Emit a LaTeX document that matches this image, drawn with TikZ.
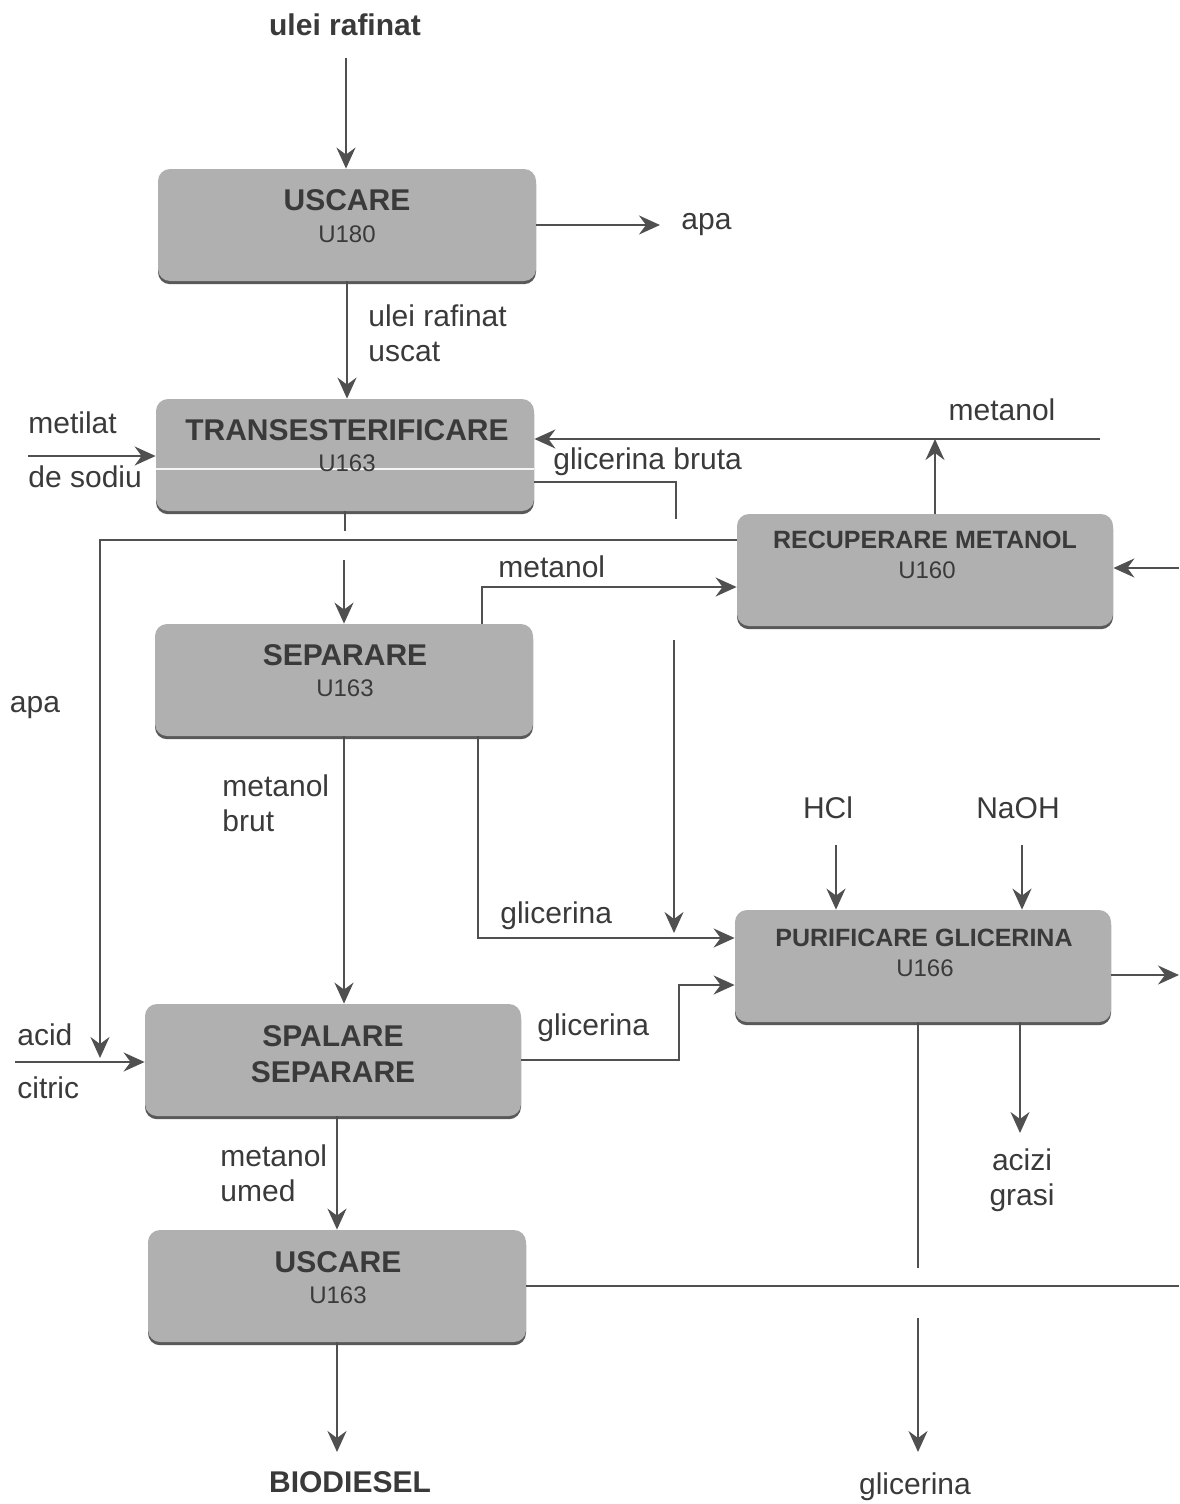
\documentclass[tikz,border=0pt]{standalone}
\usepackage{fontspec}
\setmainfont{Liberation Sans}
\usetikzlibrary{arrows.meta,shadows,calc}
\definecolor{boxfill}{HTML}{B0B0B0}
\definecolor{ln}{HTML}{505050}
\definecolor{txt}{HTML}{3A3A3A}
\begin{document}
\begin{tikzpicture}[x=0.5pt,y=-0.5pt,
  box/.style={draw=none, fill=boxfill, rounded corners=6pt, minimum width=189pt, minimum height=56pt, inner sep=0pt,
    drop shadow={shadow xshift=0pt, shadow yshift=-1.6pt, fill=black!65, opacity=1}},
  ttl/.style={text=txt, font=\fontsize{15}{18}\selectfont\bfseries, inner sep=0pt},
  ttls/.style={text=txt, font=\fontsize{12.5}{15}\selectfont\bfseries, inner sep=0pt},
  sub/.style={text=txt, font=\fontsize{12}{14}\selectfont, inner sep=0pt},
  lab/.style={text=txt, font=\fontsize{15}{17.5}\selectfont, inner sep=0pt, align=left},
  labb/.style={text=txt, font=\fontsize{15}{18}\selectfont\bfseries, inner sep=0pt},
  line/.style={draw=ln, line width=1pt},
  arr/.style={line, -{Stealth[length=10.5pt,width=9.5pt,inset=3.5pt]}},
]
\useasboundingbox (0,0) rectangle (1179,1504);

% boxes
\node[box] (u180) at (347,225) {};
\node[box] (trans) at (345,455) {};
\node[box] (sep) at (344,680) {};
\node[box, minimum width=188pt] (rec) at (925,570) {};
\node[box, minimum width=188pt] (pur) at (923,966) {};
\node[box, minimum width=188pt] (spal) at (333,1060) {};
\node[box] (u163) at (337,1286) {};

% white scan line across TRANSESTERIFICARE
\draw[white!92!gray, line width=1pt] ($(trans.west)+(0,14)$) -- ($(trans.east)+(0,14)$);

% box texts
\node[ttl] (u180t) at (347,200) {USCARE};
\node[sub] (u180s) at (347,234) {U180};
\node[ttl] (transt) at (347,430) {TRANSESTERIFICARE};
\node[sub] (transs) at (347,463) {U163};
\node[ttls] (rect) at (925,540) {RECUPERARE METANOL};
\node[sub] (recs) at (927,570) {U160};
\node[ttl] (sept) at (345,655) {SEPARARE};
\node[sub] (seps) at (345,688) {U163};
\node[ttls] (purt) at (924,938) {PURIFICARE GLICERINA};
\node[sub] (purs) at (925,968) {U166};
\node[ttl] (spalt) at (333,1036) {SPALARE};
\node[ttl] (spals) at (333,1072) {SEPARARE};
\node[ttl] (u163t) at (338,1262) {USCARE};
\node[sub] (u163s) at (338,1295) {U163};

% labels
\node[labb] (ulei) at (345,25) {ulei rafinat};
\node[lab, anchor=west] (apa1) at (681,225) {apa};
\node[lab, anchor=west] (uscat) at (368,333) {ulei rafinat\\uscat};
\node[lab, anchor=west] (metilat) at (28,423) {metilat};
\node[lab, anchor=west] (sodiu) at (28,477) {de sodiu};
\node[lab] (met1) at (1002,410) {metanol};
\node[lab, anchor=west] (gbruta) at (553,462) {glicerina bruta};
\node[lab] (apa2) at (35,708) {apa};
\node[lab, anchor=west] (met2) at (498,567) {metanol};
\node[lab, anchor=west] (mbrut) at (222,803) {metanol\\brut};
\node[lab, anchor=west] (gl1) at (500,916) {glicerina};
\node[lab] (hcl) at (828,808) {HCl};
\node[lab] (naoh) at (1018,808) {NaOH};
\node[lab, align=center] (acizi) at (1022,1180) {acizi\\grasi};
\node[lab] (gl3) at (915,1487) {glicerina};
\node[lab, anchor=west] (acid) at (17,1035) {acid};
\node[lab, anchor=west] (citric) at (17,1088) {citric};
\node[lab, anchor=west] (gl2) at (537,1028) {glicerina};
\node[lab, anchor=west] (mumed) at (220,1173) {metanol\\umed};
\node[labb] (bio) at (350,1482) {BIODIESEL};

% free-end coordinates
\coordinate (topin) at (346,58);
\coordinate (apaout) at (660,225);
\coordinate (metin) at (28,456);
\coordinate (metR) at (1100,439);
\coordinate (recup) at ($(rec.north)+(10,0)$);
\coordinate (gb1) at (676,519);
\coordinate (gb2) at (674,640);
\coordinate (gb3) at (674,933);
\coordinate (tstub) at (345,531);
\coordinate (sepin) at (344,560);
\coordinate (apaend) at (100,1058);
\coordinate (recin) at (1179,568);
\coordinate (hclin) at (836,845);
\coordinate (naohin) at (1022,845);
\coordinate (purout) at (1179,975);
\coordinate (acizout) at (1020,1133);
\coordinate (glA) at (918,1268);
\coordinate (glB) at (918,1318);
\coordinate (glC) at (918,1452);
\coordinate (u163out) at (1179,1287);
\coordinate (acidin) at (15,1062);
\coordinate (bioout) at (339,1452);

% connectors
\draw[arr] (topin) -- (topin |- u180.north);
\draw[arr] (u180.east) -- (apaout);
\draw[arr] (u180.south) -- (u180.south |- trans.north);
\draw[arr] (metin) -- (metin -| trans.west);
\draw[arr] (metR) -- (metR -| trans.east);
\draw[arr] (recup) -- (recup |- metR);
\draw[line] ($(trans.east)+(0,27)$) -| (gb1);
\draw[arr] (gb2) -- (gb3);
\draw[line] (trans.south) -- (trans.south |- tstub);
\draw[arr] (sepin) -- (sepin |- sep.north);
\draw[arr] ($(rec.west)+(0,-30)$) -| (apaend);
\draw[arr] ($(sep.north)+(138,0)$) |- ($(rec.west)+(0,17)$);
\draw[arr] (recin) -- (recin -| rec.east);
\draw[arr] (sep.south) -- (sep.south |- spal.north);
\draw[arr] ($(sep.south)+(134,0)$) |- ($(pur.west)+(0,-28)$);
\draw[arr] (hclin) -- (hclin |- pur.north);
\draw[arr] (naohin) -- (naohin |- pur.north);
\draw[arr] ($(pur.east)+(0,9)$) -- (purout);
\draw[arr] (acizout |- pur.south) -- (acizout);
\draw[line] (glA |- pur.south) -- (glA);
\draw[arr] (glB) -- (glC);
\draw[line] (u163.east) -- (u163.east -| u163out);
\draw[arr] (acidin) -- (acidin -| spal.west);
\draw[arr] (spal.east) -- ++(158,0) |- ($(pur.west)+(0,19)$);
\draw[arr] (u163.north |- spal.south) -- (u163.north);
\draw[arr] (u163.south) -- (u163.south |- bioout);
\end{tikzpicture}
\end{document}
